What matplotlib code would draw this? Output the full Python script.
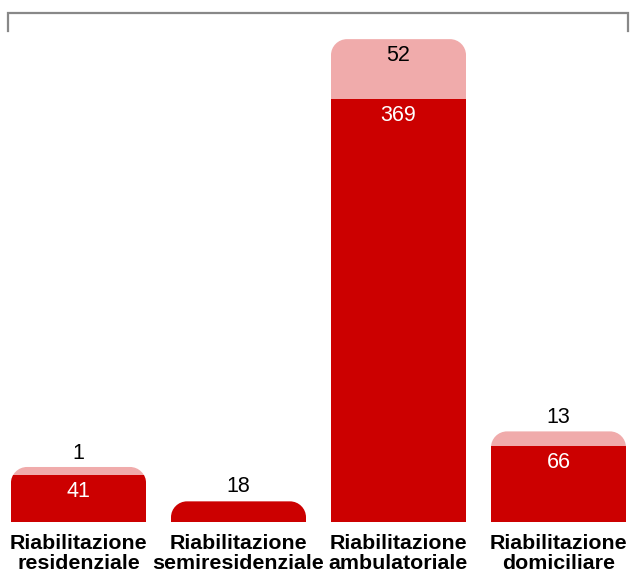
import matplotlib
matplotlib.use("Agg")
import matplotlib.pyplot as plt
from matplotlib.path import Path
from matplotlib.patches import PathPatch, Rectangle
from matplotlib.lines import Line2D

categories = ["Riabilitazione\nresidenziale", "Riabilitazione\nsemiresidenziale",
              "Riabilitazione\nambulatoriale", "Riabilitazione\ndomiciliare"]
dark_values = [41, 18, 369, 66]
light_values = [1, 0, 52, 13]

DARK = "#CC0000"
LIGHT = "#F0ABAB"

W, H, DPI = 632, 571, 100
fig = plt.figure(figsize=(W / DPI, H / DPI), dpi=DPI)
ax = fig.add_axes([0, 49 / H, 1, (522 - 13) / H])
ax.set_axis_off()

px_per_cat = 160.0
x0 = 78.5
ax.set_xlim(-x0 / px_per_cat, (W - x0) / px_per_cat)
ymax = 443.8
ax.set_ylim(0, ymax)
px_per_unit = (522 - 13) / ymax

bw = 135 / px_per_cat
r_px = 16
rx = r_px / px_per_cat
ry = r_px / px_per_unit
min_seg = 8 / px_per_unit
k = 0.5523


def rounded_top(xc, top):
    l, r = xc - bw / 2, xc + bw / 2
    verts = [(l, 0), (l, top - ry),
             (l, top - ry + k * ry), (l + rx - k * rx, top), (l + rx, top),
             (r - rx, top),
             (r - rx + k * rx, top), (r, top - ry + k * ry), (r, top - ry),
             (r, 0), (l, 0)]
    codes = [Path.MOVETO, Path.LINETO,
             Path.CURVE4, Path.CURVE4, Path.CURVE4,
             Path.LINETO,
             Path.CURVE4, Path.CURVE4, Path.CURVE4,
             Path.LINETO, Path.CLOSEPOLY]
    return Path(verts, codes)


VFS = 15.5
for i, (d, l) in enumerate(zip(dark_values, light_values)):
    lh = max(l, min_seg) if l > 0 else 0
    top = d + lh
    shape = PathPatch(rounded_top(i, top), facecolor=LIGHT if l > 0 else DARK,
                      edgecolor="none")
    ax.add_patch(shape)
    if l > 0:
        rect = Rectangle((i - bw / 2, 0), bw, d, facecolor=DARK, edgecolor="none")
        ax.add_patch(rect)
        rect.set_clip_path(shape)
    # dark label
    if d * px_per_unit > 30:
        ax.annotate(str(d), (i, d), xytext=(0, -6), textcoords="offset pixels",
                    ha="center", va="top", color="white", fontsize=VFS,
                    family="Liberation Sans")
    else:
        ax.annotate(str(d), (i, top), xytext=(0, 4), textcoords="offset pixels",
                    ha="center", va="bottom", color="black", fontsize=VFS,
                    family="Liberation Sans")
    if l > 0:
        if l * px_per_unit > 30:
            ax.annotate(str(l), (i, top), xytext=(0, -6), textcoords="offset pixels",
                        ha="center", va="top", color="black", fontsize=VFS,
                        family="Liberation Sans")
        else:
            ax.annotate(str(l), (i, top), xytext=(0, 3), textcoords="offset pixels",
                        ha="center", va="bottom", color="black", fontsize=VFS,
                        family="Liberation Sans")
    ax.annotate(categories[i], (i, 0), xytext=(0, -12), textcoords="offset pixels",
                ha="center", va="top", color="black", fontsize=15.4,
                fontweight="bold", family="Liberation Sans", linespacing=1.05,
                annotation_clip=False)

# top bracket
def fx(p):
    return p / W

def fy(p):
    return 1 - p / H

fig.add_artist(Line2D([fx(8), fx(8), fx(628), fx(628)],
                      [fy(31), fy(13), fy(13), fy(31)],
                      color="#888888", lw=1.6, solid_joinstyle="miter"))

fig.savefig("out.png", dpi=DPI)
